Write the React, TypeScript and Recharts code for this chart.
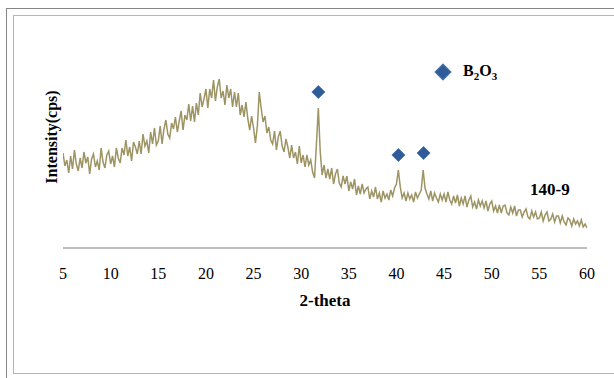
import { ComposedChart, Line, Scatter, XAxis, YAxis } from 'recharts'

// 2-theta scan positions (deg), 0.2 deg steps
const twoTheta = [
  5, 5.2, 5.4, 5.6, 5.8, 6, 6.2, 6.4, 6.6, 6.8,
  7, 7.2, 7.4, 7.6, 7.8, 8, 8.2, 8.4, 8.6, 8.8,
  9, 9.2, 9.4, 9.6, 9.8, 10, 10.2, 10.4, 10.6, 10.8,
  11, 11.2, 11.4, 11.6, 11.8, 12, 12.2, 12.4, 12.6, 12.8,
  13, 13.2, 13.4, 13.6, 13.8, 14, 14.2, 14.4, 14.6, 14.8,
  15, 15.2, 15.4, 15.6, 15.8, 16, 16.2, 16.4, 16.6, 16.8,
  17, 17.2, 17.4, 17.6, 17.8, 18, 18.2, 18.4, 18.6, 18.8,
  19, 19.2, 19.4, 19.6, 19.8, 20, 20.2, 20.4, 20.6, 20.8,
  21, 21.2, 21.4, 21.6, 21.8, 22, 22.2, 22.4, 22.6, 22.8,
  23, 23.2, 23.4, 23.6, 23.8, 24, 24.2, 24.4, 24.6, 24.8,
  25, 25.2, 25.4, 25.6, 25.8, 26, 26.2, 26.4, 26.6, 26.8,
  27, 27.2, 27.4, 27.6, 27.8, 28, 28.2, 28.4, 28.6, 28.8,
  29, 29.2, 29.4, 29.6, 29.8, 30, 30.2, 30.4, 30.6, 30.8,
  31, 31.2, 31.4, 31.6, 31.8, 32, 32.2, 32.4, 32.6, 32.8,
  33, 33.2, 33.4, 33.6, 33.8, 34, 34.2, 34.4, 34.6, 34.8,
  35, 35.2, 35.4, 35.6, 35.8, 36, 36.2, 36.4, 36.6, 36.8,
  37, 37.2, 37.4, 37.6, 37.8, 38, 38.2, 38.4, 38.6, 38.8,
  39, 39.2, 39.4, 39.6, 39.8, 40, 40.2, 40.4, 40.6, 40.8,
  41, 41.2, 41.4, 41.6, 41.8, 42, 42.2, 42.4, 42.6, 42.8,
  43, 43.2, 43.4, 43.6, 43.8, 44, 44.2, 44.4, 44.6, 44.8,
  45, 45.2, 45.4, 45.6, 45.8, 46, 46.2, 46.4, 46.6, 46.8,
  47, 47.2, 47.4, 47.6, 47.8, 48, 48.2, 48.4, 48.6, 48.8,
  49, 49.2, 49.4, 49.6, 49.8, 50, 50.2, 50.4, 50.6, 50.8,
  51, 51.2, 51.4, 51.6, 51.8, 52, 52.2, 52.4, 52.6, 52.8,
  53, 53.2, 53.4, 53.6, 53.8, 54, 54.2, 54.4, 54.6, 54.8,
  55, 55.2, 55.4, 55.6, 55.8, 56, 56.2, 56.4, 56.6, 56.8,
  57, 57.2, 57.4, 57.6, 57.8, 58, 58.2, 58.4, 58.6, 58.8,
  59, 59.2, 59.4, 59.6, 59.8, 60,
]

// sample 140-9 intensity (cps)
const intensity = [
  95, 82, 88, 75, 92, 79, 98, 84, 77, 90,
  80, 96, 85, 91, 74, 89, 94, 81, 87, 78,
  100, 86, 80, 93, 97, 84, 92, 81, 100, 90,
  85, 100, 93, 108, 92, 101, 87, 106, 101, 94,
  107, 94, 114, 102, 107, 95, 116, 104, 120, 103,
  107, 122, 104, 119, 128, 114, 110, 125, 119, 131,
  116, 127, 137, 118, 133, 128, 144, 127, 142, 126,
  145, 133, 155, 141, 149, 159, 140, 159, 150, 168,
  147, 161, 169, 150, 157, 143, 163, 150, 159, 141,
  156, 141, 155, 133, 143, 131, 146, 129, 118, 132,
  120, 105, 122, 156, 140, 126, 132, 115, 121, 108,
  104, 117, 98, 111, 117, 102, 96, 109, 101, 90,
  103, 90, 96, 84, 102, 85, 93, 81, 93, 83,
  88, 76, 70, 104, 140, 96, 73, 83, 70, 79,
  69, 80, 64, 74, 79, 65, 61, 72, 64, 72,
  57, 66, 59, 69, 53, 62, 54, 64, 55, 59,
  61, 49, 57, 51, 61, 49, 55, 46, 57, 50,
  54, 48, 58, 52, 60, 64, 78, 61, 50, 55,
  47, 55, 49, 53, 46, 56, 50, 54, 58, 78,
  60, 54, 49, 57, 47, 55, 50, 46, 54, 48,
  54, 46, 56, 48, 44, 52, 45, 53, 42, 50,
  44, 52, 41, 48, 52, 41, 46, 39, 48, 42,
  47, 40, 47, 37, 44, 47, 37, 42, 35, 43,
  35, 42, 43, 35, 33, 41, 35, 42, 32, 38,
  38, 31, 36, 39, 31, 29, 37, 31, 36, 29,
  30, 36, 27, 33, 36, 27, 29, 34, 26, 32,
  32, 25, 32, 26, 23, 30, 28, 22, 29, 24,
  27, 22, 28, 21, 24, 20,
]

// B2O3 reflections and marker heights
const b2o3Theta = [31.8, 40.2, 42.85]
const b2o3Marker = [156, 93, 95]

const xTicks = [5, 10, 15, 20, 25, 30, 35, 40, 45, 50, 55, 60]

const pattern = twoTheta.map((t, i) => ({ t, y: intensity[i] }))
const markers = b2o3Theta.map((t, i) => ({ t, y: b2o3Marker[i] }))

const serif = '"Liberation Serif", "Times New Roman", serif'

function Diamond(props: any) {
  const { cx, cy } = props
  const r = 6.5
  return (
    <polygon
      points={`${cx},${cy - r} ${cx + r},${cy} ${cx},${cy + r} ${cx - r},${cy}`}
      fill="#2f5c98"
      stroke="#4a76ae"
      strokeWidth={1}
    />
  )
}

export default function App() {
  return (
    <div style={{ position: 'absolute', left: 0, top: 0, width: 614, height: 378, overflow: 'hidden', background: '#fff', fontFamily: serif }}>
      <div style={{ position: 'absolute', left: 6, top: 8, width: 640, height: 400, border: '1.5px solid #858585' }} />
      <div style={{ position: 'absolute', left: 13, top: 15, width: 640, height: 357, border: '1.5px solid #b4b4b4' }} />
      <ComposedChart
        width={614}
        height={378}
        margin={{ top: 48, right: 27, bottom: 100, left: 63 }}
        style={{ position: 'absolute', left: 0, top: 0 }}
      >
        <XAxis
          dataKey="t"
          type="number"
          domain={[5, 60]}
          ticks={xTicks}
          height={30}
          allowDataOverflow
          tickLine={false}
          tickMargin={14}
          axisLine={{ stroke: '#a9a9a9', strokeWidth: 1.5 }}
          tick={{ fill: '#000', fontSize: 16, fontFamily: serif }}
        />
        <YAxis type="number" domain={[0, 200]} hide />
        <Line
          data={pattern}
          dataKey="y"
          type="linear"
          stroke="#9d9464"
          strokeWidth={1.5}
          dot={false}
          isAnimationActive={false}
        />
        <Scatter data={markers} dataKey="y" shape={<Diamond />} isAnimationActive={false} />
      </ComposedChart>
      <div style={{ position: 'absolute', left: 52, top: 137, transform: 'translate(-50%, -50%) rotate(-90deg)', fontSize: 16, fontWeight: 'bold', whiteSpace: 'nowrap' }}>
        Intensity(cps)
      </div>
      <div style={{ position: 'absolute', left: 325, top: 301, transform: 'translate(-50%, -50%)', fontSize: 17, fontWeight: 'bold', whiteSpace: 'nowrap' }}>
        2-theta
      </div>
      <div style={{ position: 'absolute', left: 530, top: 180, fontSize: 17, fontWeight: 'bold', whiteSpace: 'nowrap' }}>
        140-9
      </div>
      <div style={{ position: 'absolute', left: 437, top: 66, width: 10, height: 10, background: '#2f5c98', border: '1px solid #4a76ae', transform: 'rotate(45deg)' }} />
      <div style={{ position: 'absolute', left: 463, top: 62, fontSize: 16, fontWeight: 'bold', whiteSpace: 'nowrap' }}>
        B<sub style={{ fontSize: 11 }}>2</sub>O<sub style={{ fontSize: 11 }}>3</sub>
      </div>
    </div>
  )
}
